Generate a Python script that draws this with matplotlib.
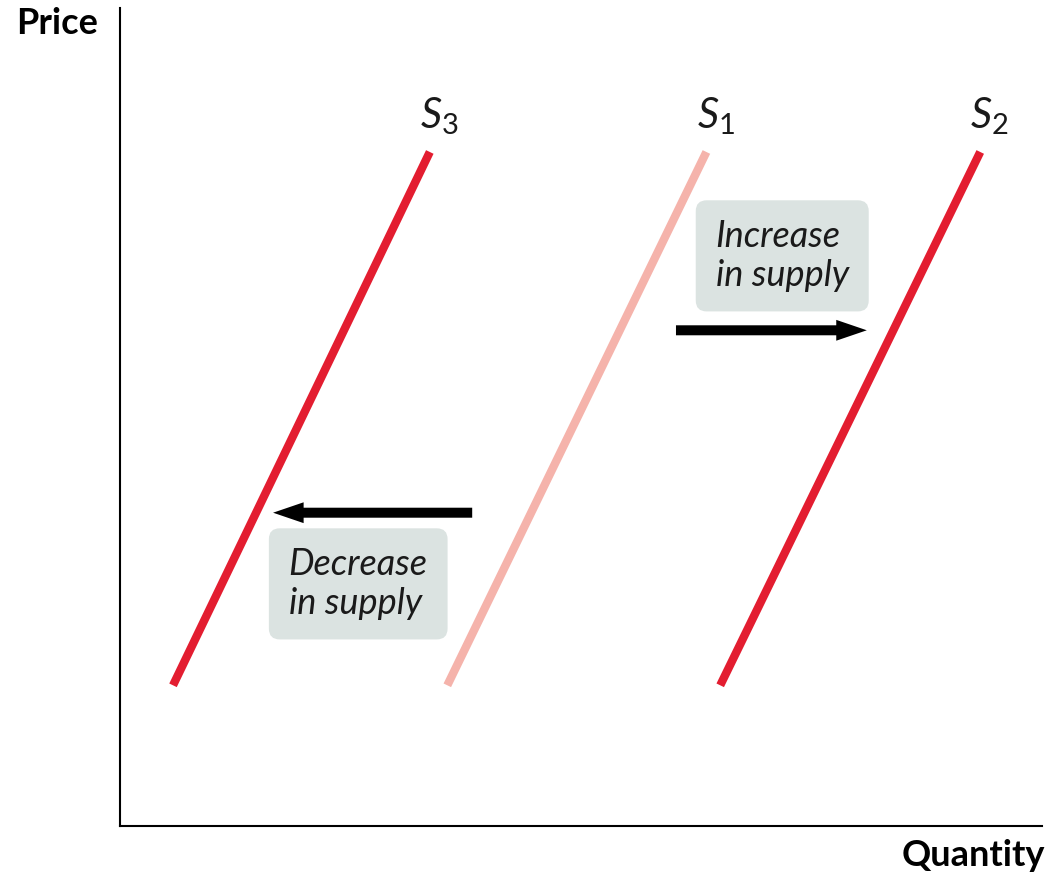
import numpy as np
import matplotlib.pyplot as plt
from matplotlib.patches import FancyArrowPatch

plt.rcParams['font.family'] = ['Lato', 'DejaVu Sans']
plt.rcParams['mathtext.fontset'] = 'custom'
plt.rcParams['mathtext.it'] = 'Lato:italic'
plt.rcParams['mathtext.rm'] = 'Lato'

# supply curves: quantity at low price and at high price
curve_names = ['S_3', 'S_1', 'S_2']
q_low = [0.575, 3.55, 6.51]
q_high = [3.36, 6.36, 9.33]
price_low = 1.72
price_high = 8.24
curve_colors = ['#e31d30', '#f5b3ab', '#e31d30']

# shift arrows: (q_start, q_end, price)
shift_start = [6.0, 3.85]
shift_end = [8.13, 1.63]
shift_price = [6.06, 3.83]

fig = plt.figure(figsize=(10.6, 8.82), dpi=100)
ax = fig.add_axes([120 / 1060, 56 / 882, 922 / 1060, 818 / 882])
ax.set_xlim(0, 10)
ax.set_ylim(0, 10)

for name, ql, qh, c in zip(curve_names, q_low, q_high, curve_colors):
    ax.plot([ql, qh], [price_low, price_high], color=c, linewidth=6,
            solid_capstyle='butt')
    ax.text(qh + 0.1, price_high + 0.18, '$' + name[0] + '_{\\mathrm{' + name[2] + '}}$',
            fontsize=30, ha='center', va='bottom', color='#1a1a1a')

for x0, x1, p in zip(shift_start, shift_end, shift_price):
    arr = FancyArrowPatch((x0, p), (x1, p),
                          arrowstyle='simple,head_length=1.1,head_width=0.75,tail_width=0.36',
                          mutation_scale=20, color='black', lw=0)
    ax.add_patch(arr)

box = dict(boxstyle='round,pad=0.55,rounding_size=0.3', facecolor='#dbe3e1', edgecolor='none')
ax.text(6.46, 6.97, 'Increase\nin supply', fontsize=26, style='italic', ha='left',
        va='center', linespacing=1.2, color='#1a1a1a', bbox=box)
ax.text(1.83, 2.96, 'Decrease\nin supply', fontsize=26, style='italic', ha='left',
        va='center', linespacing=1.2, color='#1a1a1a', bbox=box)

for s in ['top', 'right']:
    ax.spines[s].set_visible(False)
for s in ['left', 'bottom']:
    ax.spines[s].set_linewidth(1.5)
ax.set_xticks([])
ax.set_yticks([])

fig.text(16 / 1060, 1 - 24 / 882, 'Price', fontsize=26, fontweight='bold',
         ha='left', va='center')
fig.text(1045 / 1060, 1 - 856 / 882, 'Quantity', fontsize=26, fontweight='bold',
         ha='right', va='center')

fig.savefig('out.png', dpi=100)
